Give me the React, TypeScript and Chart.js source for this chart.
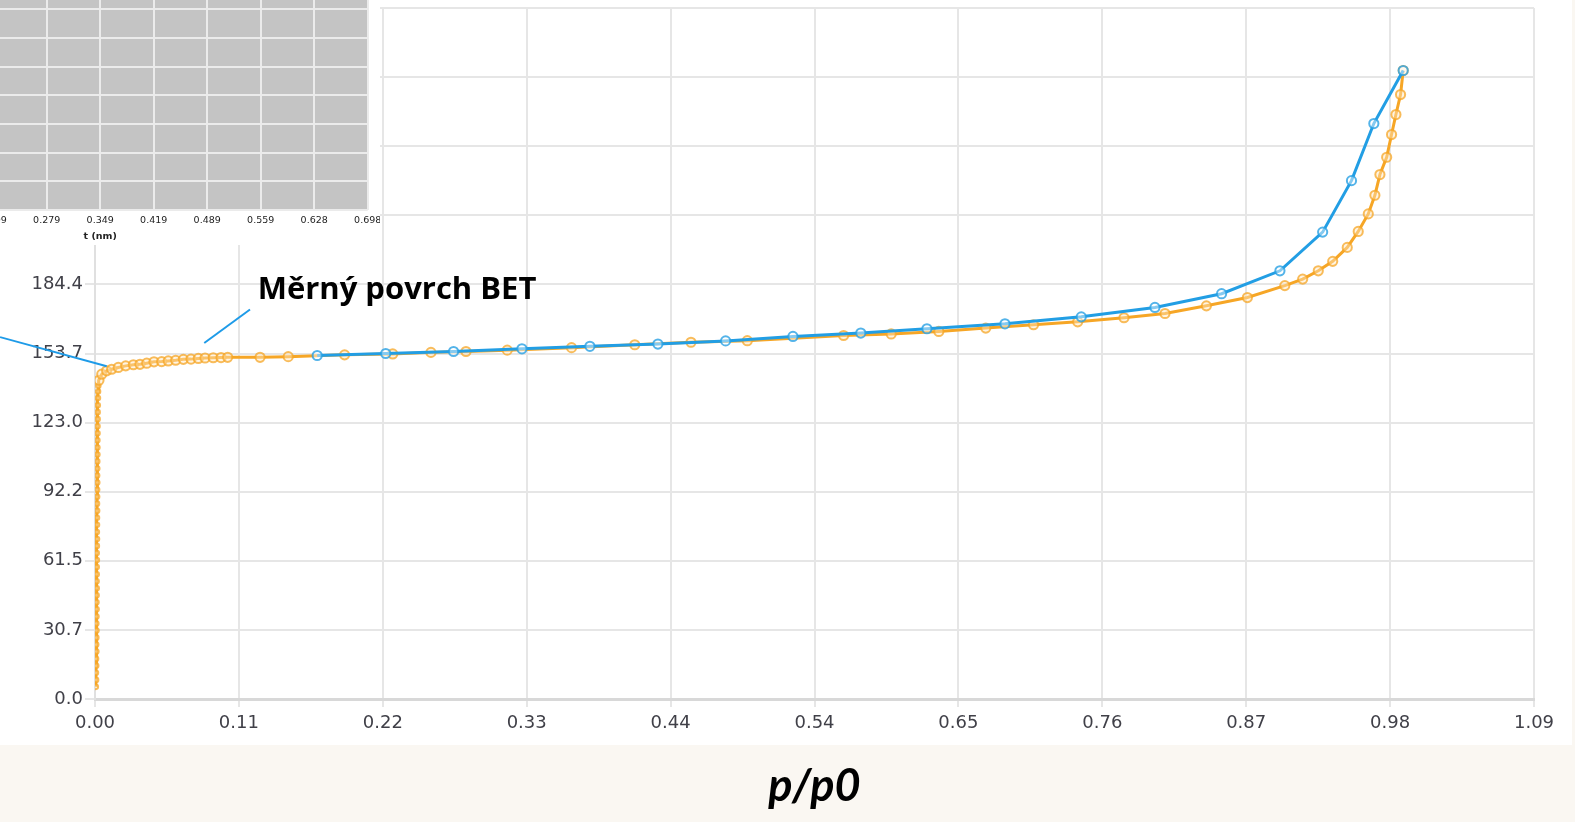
import { useEffect, useRef } from 'react';
import { Chart, registerables } from 'chart.js';

Chart.register(...registerables);

// ---- Main isotherm data (p/p0, adsorbed volume) ----
const adsorptionX = [
  0.0006, 0.0008, 0.0007, 0.0009, 0.0008, 0.0010, 0.0009, 0.0010, 0.0011, 0.0010,
  0.0011, 0.0012, 0.0011, 0.0012, 0.0013, 0.0012, 0.0013, 0.0013, 0.0014, 0.0013,
  0.0014, 0.0015, 0.0014, 0.0015, 0.0015, 0.0016, 0.0015, 0.0016, 0.0016, 0.0017,
  0.0016, 0.0017, 0.0017, 0.0018, 0.0018, 0.0018, 0.0019, 0.0019, 0.0020, 0.0020,
  0.0021, 0.0022, 0.0023, 0.0025,
  0.0030, 0.0051, 0.0088, 0.0126, 0.0176, 0.0232, 0.0290, 0.0340, 0.0391, 0.0446,
  0.0504, 0.0554, 0.0610, 0.0668, 0.0726, 0.0781, 0.0832, 0.0894, 0.0953, 0.1003,
  0.1248, 0.1461, 0.1887, 0.2251, 0.2540, 0.2805, 0.3117, 0.3603, 0.4081, 0.4506,
  0.4932, 0.5660, 0.6020, 0.6380, 0.6735, 0.7096, 0.7430, 0.7780, 0.8090, 0.8403,
  0.8713, 0.8996, 0.9131, 0.9249, 0.9358, 0.9468, 0.9551, 0.9627, 0.9677, 0.9715,
  0.9766, 0.9803, 0.9836, 0.9871, 0.9891,
];
const adsorptionY = [
  5.4, 8.5, 11.7, 14.8, 17.9, 21.1, 24.2, 27.3, 30.5, 33.6,
  36.7, 39.9, 43.0, 46.1, 49.3, 52.4, 55.5, 58.7, 61.8, 64.9,
  68.1, 71.2, 74.3, 77.5, 80.6, 83.7, 86.9, 90.0, 93.1, 96.3,
  99.4, 102.5, 105.7, 108.8, 111.9, 115.1, 118.2, 121.3, 124.5, 127.6,
  130.7, 133.9, 136.8, 139.3,
  141.8, 144.5, 146.0, 146.7, 147.5, 148.2, 148.7, 148.9, 149.4, 150.0,
  150.1, 150.4, 150.7, 151.1, 151.2, 151.5, 151.7, 151.8, 151.9, 152.0,
  152.0, 152.3, 153.1, 153.5, 154.2, 154.6, 155.2, 156.3, 157.6, 158.7,
  159.4, 161.7, 162.4, 163.5, 165.0, 166.5, 167.8, 169.6, 171.5, 174.9,
  178.6, 183.9, 186.8, 190.5, 194.7, 200.9, 208.0, 215.8, 224.1, 233.3,
  241.0, 251.1, 260.0, 268.9, 279.6,
];
const desorptionX = [
  0.1680, 0.2198, 0.2711, 0.3228, 0.3742, 0.4256, 0.4768, 0.5277, 0.5790, 0.6290,
  0.6880, 0.7457, 0.8014, 0.8518, 0.8959, 0.9282, 0.9500, 0.9669, 0.9891,
];
const desorptionY = [
  152.8, 153.7, 154.6, 155.8, 156.9, 157.9, 159.3, 161.3, 162.8, 164.7,
  166.9, 170.0, 174.2, 180.3, 190.5, 207.7, 230.6, 256.0, 279.6,
];

const xMax = 1.088;
const yMax = 307.4;
const xTickLabels = ['0.00', '0.11', '0.22', '0.33', '0.44', '0.54', '0.65', '0.76', '0.87', '0.98', '1.09'];
const yTickLabels = ['0.0', '30.7', '61.5', '92.2', '123.0', '153.7', '184.4', '215.2', '245.9', '276.7', '307.4'];

// ---- Inset (t-plot) axis ----
const insetXMax = 0.698;
const insetXTickLabels = ['0.000', '0.070', '0.140', '0.209', '0.279', '0.349', '0.419', '0.489', '0.559', '0.628', '0.698'];
const insetYSteps = 8;

// ---- Annotation (in data coordinates) ----
const annotationText = 'Měrný povrch BET';
const annotationTextPos = [0.123, 178.0];
const annotationLines = [
  [[0.0826, 158.4], [0.1172, 173.3]],
  [[-0.0718, 161.0], [0.00885, 148.0]],
];

const ORANGE = 'rgb(246,166,38)';
const BLUE = 'rgb(34,158,228)';
const TICK_FONT = { family: 'DejaVu Sans', size: 18 };

const noPad = (s: any) => {
  s.paddingTop = 0;
  s.paddingBottom = 0;
  s.paddingLeft = 0;
  s.paddingRight = 0;
};

export default function App() {
  const mainRef = useRef<HTMLCanvasElement | null>(null);
  const insetRef = useRef<HTMLCanvasElement | null>(null);

  useEffect(() => {
    document.body.style.margin = '0';
    const bgPlugin = {
      id: 'bgPlugin',
      beforeDraw(chart: any) {
        const { ctx, width, height, chartArea } = chart;
        ctx.save();
        ctx.fillStyle = '#FAF7F2';
        ctx.fillRect(0, 0, width, height);
        ctx.fillStyle = '#FFFFFF';
        ctx.fillRect(0, 0, chartArea.right + 38, chartArea.bottom + 46);
        ctx.restore();
      },
    };
    const annPlugin = {
      id: 'annPlugin',
      afterDraw(chart: any) {
        const { ctx } = chart;
        const xs = chart.scales.x;
        const ys = chart.scales.y;
        ctx.save();
        ctx.strokeStyle = 'rgb(30,155,232)';
        ctx.lineWidth = 2;
        annotationLines.forEach((ln) => {
          ctx.beginPath();
          ctx.moveTo(xs.getPixelForValue(ln[0][0]), ys.getPixelForValue(ln[0][1]));
          ctx.lineTo(xs.getPixelForValue(ln[1][0]), ys.getPixelForValue(ln[1][1]));
          ctx.stroke();
        });
        ctx.fillStyle = '#000';
        ctx.font = 'bold 31px "Open Sans"';
        ctx.textBaseline = 'alphabetic';
        ctx.textAlign = 'left';
        ctx.fillText(annotationText, xs.getPixelForValue(annotationTextPos[0]), ys.getPixelForValue(annotationTextPos[1]));
        ctx.restore();
      },
    };

    const small = (c: any) => (c.raw && c.raw.x < 0.0027 && c.raw.y < 140 ? 2.3 : 4.6);

    const main = new Chart(mainRef.current as HTMLCanvasElement, {
      type: 'scatter',
      data: {
        datasets: [
          {
            label: 'Desorpce',
            data: desorptionX.map((x, i) => ({ x, y: desorptionY[i] })),
            showLine: true,
            borderColor: BLUE,
            borderWidth: 3,
            pointRadius: 4.6,
            pointBorderWidth: 2,
            pointBorderColor: 'rgba(40,160,228,0.8)',
            pointBackgroundColor: 'rgba(255,255,255,0.45)',
            order: 0,
          },
          {
            label: 'Adsorpce',
            data: adsorptionX.map((x, i) => ({ x, y: adsorptionY[i] })),
            showLine: true,
            borderColor: ORANGE,
            borderWidth: 3,
            pointRadius: small,
            pointBorderWidth: 2,
            pointBorderColor: 'rgba(246,166,38,0.75)',
            pointBackgroundColor: 'rgba(255,230,190,0.45)',
            order: 1,
          },
        ],
      },
      options: {
        animation: false,
        responsive: false,
        maintainAspectRatio: false,
        layout: { padding: { top: 8, right: 41, left: 0, bottom: 0 } },
        plugins: { legend: { display: false }, tooltip: { enabled: false } },
        scales: {
          x: {
            type: 'linear',
            min: 0,
            max: xMax,
            afterBuildTicks: (s: any) => {
              s.ticks = xTickLabels.map((_, i) => ({ value: (i * xMax) / 10 }));
            },
            afterFit: (s: any) => {
              s.height = 123;
              noPad(s);
            },
            ticks: {
              callback: (_v: any, i: number) => xTickLabels[i],
              font: TICK_FONT,
              color: '#404048',
              padding: 6,
              maxRotation: 0,
              autoSkip: false,
            },
            grid: { color: '#E6E6E6', lineWidth: 2, tickLength: 8 },
            border: { color: '#D8D8D8', width: 3 },
            title: {
              display: true,
              text: 'p/p0',
              color: '#000',
              font: { family: 'Lato, "Liberation Sans", sans-serif', size: 45, weight: 'bold', style: 'italic' },
              padding: { top: 0, bottom: 9 },
            },
          },
          y: {
            type: 'linear',
            min: 0,
            max: yMax,
            afterBuildTicks: (s: any) => {
              s.ticks = yTickLabels.map((_, i) => ({ value: (i * yMax) / 10 }));
            },
            afterFit: (s: any) => {
              s.width = 95;
              noPad(s);
            },
            ticks: {
              callback: (_v: any, i: number) => yTickLabels[i],
              font: TICK_FONT,
              color: '#404048',
              padding: 2,
              autoSkip: false,
            },
            grid: { color: '#E6E6E6', lineWidth: 2, tickLength: 10 },
            border: { color: '#E0E0E0', width: 2 },
          },
        },
      },
      plugins: [bgPlugin, annPlugin],
    } as any);

    const insetBg = {
      id: 'insetBg',
      beforeDraw(chart: any) {
        const { ctx, width, height, chartArea } = chart;
        ctx.save();
        ctx.fillStyle = '#FFFFFF';
        ctx.fillRect(0, 0, width, height);
        ctx.fillStyle = '#C4C4C4';
        ctx.fillRect(chartArea.left, chartArea.top, chartArea.right - chartArea.left, chartArea.bottom - chartArea.top);
        ctx.restore();
      },
    };

    const inset = new Chart(insetRef.current as HTMLCanvasElement, {
      type: 'scatter',
      data: { datasets: [{ data: [] }] },
      options: {
        animation: false,
        responsive: false,
        maintainAspectRatio: false,
        layout: { padding: { top: 20.6, right: 12.3, left: 0, bottom: 0 } },
        plugins: { legend: { display: false }, tooltip: { enabled: false } },
        scales: {
          x: {
            type: 'linear',
            min: 0,
            max: insetXMax,
            afterBuildTicks: (s: any) => {
              s.ticks = insetXTickLabels.map((_, i) => ({ value: (i * insetXMax) / 10 }));
            },
            afterFit: (s: any) => {
              s.height = 35;
              noPad(s);
            },
            ticks: {
              callback: (_v: any, i: number) => insetXTickLabels[i],
              font: { family: 'DejaVu Sans', size: 9.5 },
              color: '#222',
              padding: 5,
              maxRotation: 0,
              autoSkip: false,
            },
            grid: { color: '#EBEBEB', lineWidth: 2, drawTicks: false },
            border: { display: false },
            title: {
              display: true,
              text: 't (nm)',
              color: '#222',
              font: { family: 'DejaVu Sans', size: 9.5, weight: 'bold' },
              padding: { top: 0, bottom: 3 },
            },
          },
          y: {
            type: 'linear',
            min: 0,
            max: insetYSteps,
            afterFit: (s: any) => {
              s.width = 32.7;
              noPad(s);
            },
            ticks: { display: false, stepSize: 1 },
            grid: { color: '#EBEBEB', lineWidth: 2, drawTicks: false },
            border: { display: false },
          },
        },
      },
      plugins: [insetBg],
    } as any);

    return () => {
      main.destroy();
      inset.destroy();
    };
  }, []);

  return (
    <div
      style={{
        position: 'fixed',
        left: 0,
        top: 0,
        width: 1575,
        height: 822,
        overflow: 'hidden',
        background: '#FAF7F2',
      }}
    >
      <canvas ref={mainRef} width={1575} height={822} style={{ position: 'absolute', left: 0, top: 0, display: 'block' }} />
      <canvas ref={insetRef} width={580} height={285} style={{ position: 'absolute', left: -200, top: -40, display: 'block' }} />
    </div>
  );
}
